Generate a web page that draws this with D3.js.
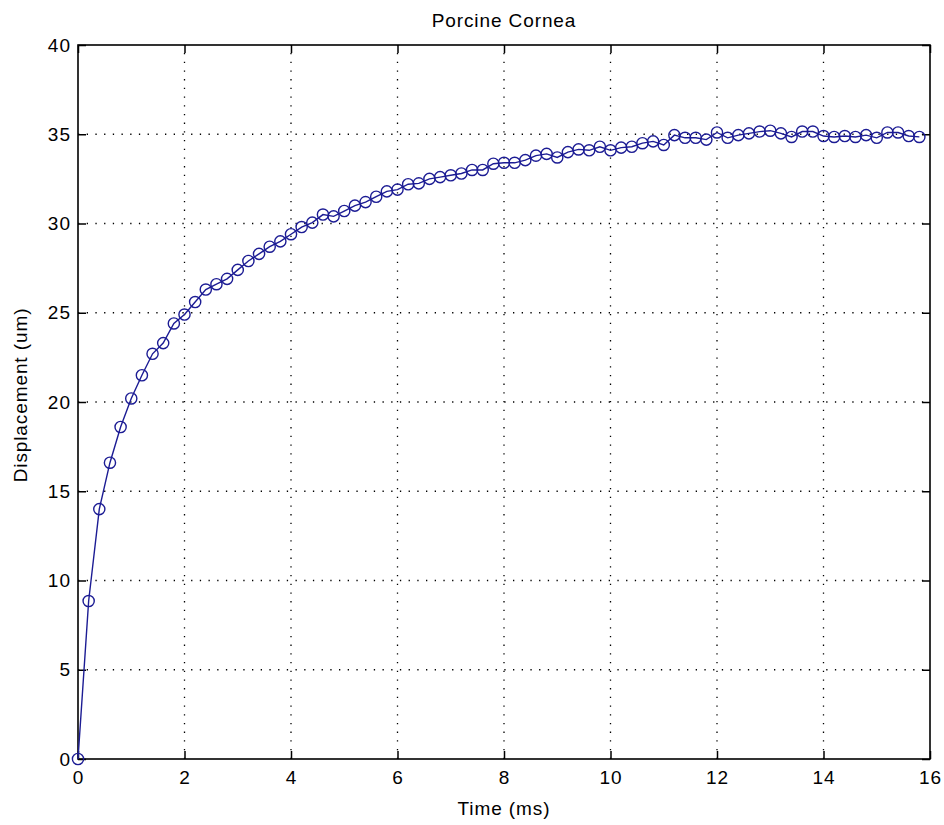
<!DOCTYPE html>
<html>
<head>
<meta charset="utf-8">
<script src="https://cdn.jsdelivr.net/npm/d3@7"></script>
<style>
	body { margin: 0; background: #fff; }
	text { font-family: Arial, "Liberation Sans", sans-serif; fill: #000; }
</style>
</head>
<body>
<div id="chart"></div>
<script>

	// data, one sample every 0.2 ms
	var times = d3.range(0, 80).map(function(i){ return +(i * 0.2).toFixed(1); });
	var displacement = [
		0, 8.85, 14.0, 16.6, 18.6, 20.2, 21.5, 22.7, 23.3, 24.4,
		24.9, 25.6, 26.3, 26.6, 26.9, 27.4, 27.9, 28.3, 28.7, 29.0,
		29.4, 29.8, 30.05, 30.5, 30.4, 30.7, 31.0, 31.2, 31.5, 31.8,
		31.9, 32.2, 32.25, 32.5, 32.6, 32.7, 32.8, 33.0, 33.0, 33.35,
		33.4, 33.4, 33.55, 33.8, 33.9, 33.7, 34.0, 34.15, 34.1, 34.3,
		34.1, 34.25, 34.3, 34.5, 34.6, 34.4, 34.95, 34.8, 34.8, 34.7,
		35.1, 34.8, 34.95, 35.05, 35.15, 35.2, 35.05, 34.85, 35.15, 35.15,
		34.9, 34.85, 34.9, 34.85, 34.95, 34.8, 35.1, 35.1, 34.9, 34.85
	];
	var xTicks = [0, 2, 4, 6, 8, 10, 12, 14, 16];
	var yTicks = [0, 5, 10, 15, 20, 25, 30, 35, 40];

	var points = times.map(function(t, i){ return { t: t, v: displacement[i] }; });

	// set the specs
	var width = 944;
	var height = 825;
	var marginLeft = 78;
	var marginRight = 14;
	var marginTop = 45;
	var marginBottom = 66;
	var tickLen = 8;
	var lineColor = "#1c1c94";

	var svg = d3.select("#chart")
		.append("svg")
		.attr("width", width)
		.attr("height", height);

	var xScale = d3.scaleLinear()
		.domain([0, 16])
		.range([marginLeft, width - marginRight]);

	var yScale = d3.scaleLinear()
		.domain([0, 40])
		.range([height - marginBottom, marginTop]);

	var x0 = xScale.range()[0], x1 = xScale.range()[1];
	var y0 = yScale.range()[0], y1 = yScale.range()[1];

	// dotted grid
	svg.append("g")
		.selectAll("line")
		.data(xTicks.slice(1, -1))
		.enter()
		.append("line")
		.attr("x1", function(d){ return xScale(d); })
		.attr("x2", function(d){ return xScale(d); })
		.attr("y1", y0)
		.attr("y2", y1)
		.attr("stroke", "#000")
		.attr("stroke-width", 1.3)
		.attr("stroke-dasharray", "1.3,7.4");

	svg.append("g")
		.selectAll("line")
		.data(yTicks.slice(1, -1))
		.enter()
		.append("line")
		.attr("y1", function(d){ return yScale(d); })
		.attr("y2", function(d){ return yScale(d); })
		.attr("x1", x0)
		.attr("x2", x1)
		.attr("stroke", "#000")
		.attr("stroke-width", 1.3)
		.attr("stroke-dasharray", "1.3,7.4");

	// axes, ticks pointing inward on every side
	var xAxisB = d3.axisBottom(xScale).tickValues(xTicks).tickSize(-tickLen).tickPadding(12);
	var xAxisT = d3.axisTop(xScale).tickValues(xTicks).tickSize(-tickLen).tickFormat("");
	var yAxisL = d3.axisLeft(yScale).tickValues(yTicks).tickSize(-tickLen).tickPadding(7);
	var yAxisR = d3.axisRight(yScale).tickValues(yTicks).tickSize(-tickLen).tickFormat("");

	function styleAxis(g){
		g.select(".domain").remove();
		g.selectAll(".tick line").attr("stroke", "#000").attr("stroke-width", 1.5);
		g.selectAll("text")
			.attr("fill", "#000")
			.style("font-size", "19px")
			.style("letter-spacing", "1px");
	}

	svg.append("g")
		.attr("transform", "translate(0," + y0 + ")")
		.call(xAxisB)
		.call(styleAxis);
	svg.append("g")
		.attr("transform", "translate(0," + y1 + ")")
		.call(xAxisT)
		.call(styleAxis);
	svg.append("g")
		.attr("transform", "translate(" + x0 + ",0)")
		.call(yAxisL)
		.call(styleAxis);
	svg.append("g")
		.attr("transform", "translate(" + x1 + ",0)")
		.call(yAxisR)
		.call(styleAxis);

	// box
	svg.append("rect")
		.attr("x", x0)
		.attr("y", y1)
		.attr("width", x1 - x0)
		.attr("height", y0 - y1)
		.attr("fill", "none")
		.attr("stroke", "#000")
		.attr("stroke-width", 1.6);

	// the series
	var line = d3.line()
		.x(function(d){ return xScale(d.t); })
		.y(function(d){ return yScale(d.v); });

	svg.append("path")
		.datum(points)
		.attr("d", line)
		.attr("fill", "none")
		.attr("stroke", lineColor)
		.attr("stroke-width", 1.4);

	svg.selectAll("circle")
		.data(points)
		.enter()
		.append("circle")
		.attr("cx", function(d){ return xScale(d.t); })
		.attr("cy", function(d){ return yScale(d.v); })
		.attr("r", 5.6)
		.attr("fill", "none")
		.attr("stroke", lineColor)
		.attr("stroke-width", 1.4);

	// title and labels
	svg.append("text")
		.attr("x", (x0 + x1) / 2)
		.attr("y", 27)
		.attr("text-anchor", "middle")
		.style("font-size", "19px")
		.style("letter-spacing", "0.9px")
		.text("Porcine Cornea");

	svg.append("text")
		.attr("x", (x0 + x1) / 2)
		.attr("y", 815)
		.attr("text-anchor", "middle")
		.style("font-size", "19px")
		.style("letter-spacing", "0.9px")
		.text("Time (ms)");

	svg.append("text")
		.attr("transform", "translate(27," + 395 + ") rotate(-90)")
		.attr("text-anchor", "middle")
		.style("font-size", "19px")
		.style("letter-spacing", "0.9px")
		.text("Displacement (um)");

</script>
</body>
</html>
